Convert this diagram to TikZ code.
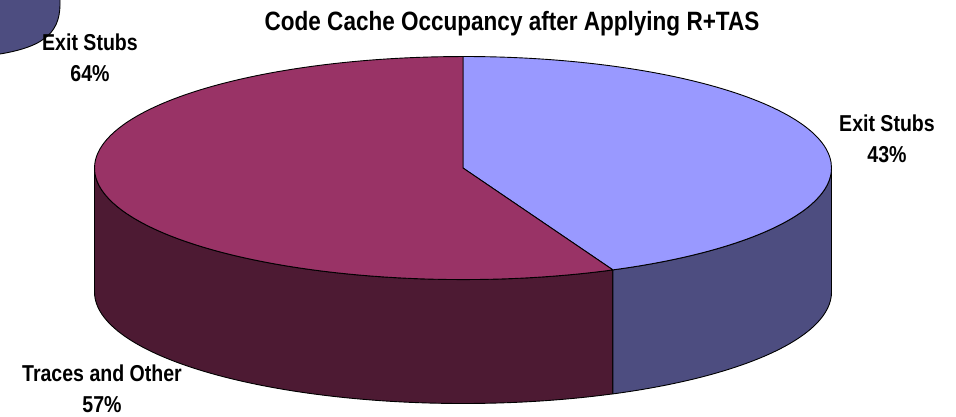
\documentclass[tikz,border=0pt]{standalone}
\usepackage{fontspec}
\setmainfont{Liberation Sans}[FakeStretch=0.85]
\definecolor{btop}{HTML}{9999FF}
\definecolor{bside}{HTML}{4D4D80}
\definecolor{mtop}{HTML}{993366}
\definecolor{mside}{HTML}{4D1A33}
\tikzset{
  lab/.style={font=\fontsize{23}{31}\selectfont\bfseries, align=center, inner sep=0pt},
  ttl/.style={font=\fontsize{26.5}{30}\selectfont\bfseries, inner sep=0pt},
  slice/.style={draw=black, line width=0.9pt, line join=round},
  ell/.style={x radius=368.5, y radius=111.5}
}
\begin{document}
\begin{tikzpicture}[x=1pt,y=1pt]
\useasboundingbox (0,0) rectangle (956,416);
% partial pie at top-left (cut off)
\fill[bside] (0,416) -- (60,416) .. controls (61,386) and (48,370) .. (0,362) -- cycle;
\draw[line width=0.9pt] (60,416) .. controls (61,386) and (48,370) .. (0,362);
% main pie
\coordinate (c) at (463,248);
\coordinate (ptop) at (463,359.5);
\coordinate (pb) at (612.9,146.1);
\coordinate (pbb) at (612.9,22.1);
\coordinate (pl) at (94.5,248);
\coordinate (plb) at (94.5,124);
\coordinate (pr) at (831.5,248);
% sides
\filldraw[slice, fill=mside] (pl) -- (plb) arc[start angle=180, end angle=294, ell] -- (pb) arc[start angle=294, end angle=180, ell] -- cycle;
\filldraw[slice, fill=bside] (pb) -- (pbb) arc[start angle=294, end angle=360, ell] -- (pr) arc[start angle=0, end angle=-66, ell] -- cycle;
% top
\filldraw[slice, fill=btop] (c) -- (ptop) arc[start angle=90, end angle=-66, ell] -- cycle;
\filldraw[slice, fill=mtop] (c) -- (pb) arc[start angle=-66, end angle=-270, ell] -- cycle;
% labels
\node[ttl, anchor=base] (title) at (512,385) {Code Cache Occupancy after Applying R+TAS};
\node[lab] (es) at (887,277) {Exit Stubs\\43\%};
\node[lab] (tr) at (102,27) {Traces and Other\\57\%};
\node[lab] (es2) at (90,358) {Exit Stubs\\64\%};
\end{tikzpicture}
\end{document}
